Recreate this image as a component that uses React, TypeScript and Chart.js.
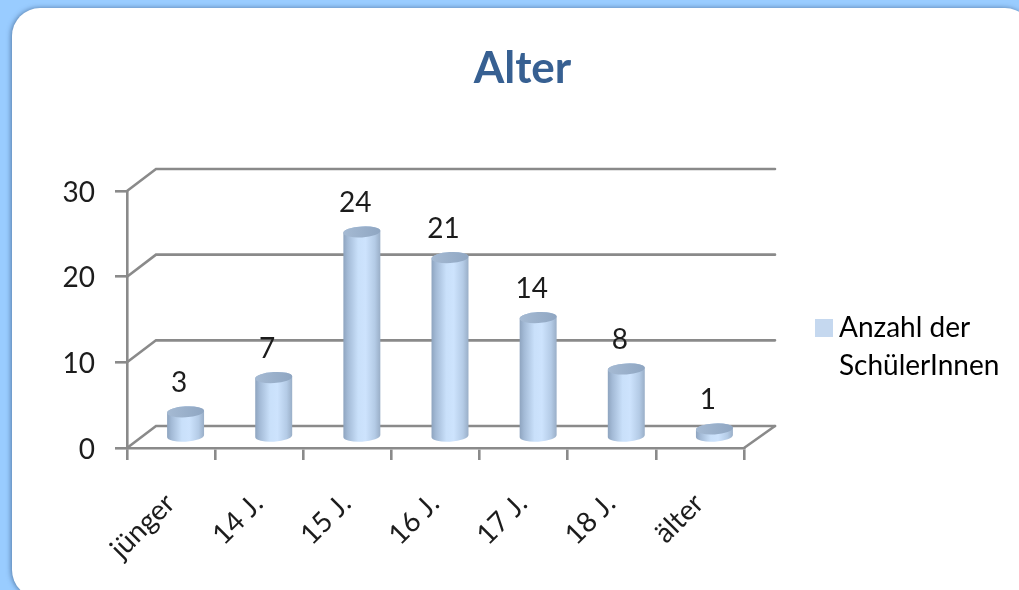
import React, { useEffect, useRef } from "react";
import { Chart, registerables } from "chart.js";

Chart.register(...registerables);

const categories = ["jünger", "14 J.", "15 J.", "16 J.", "17 J.", "18 J.", "älter"];
const counts = [3, 7, 24, 21, 14, 8, 1];
const seriesName = ["Anzahl der", "SchülerInnen"];
const yTicks = [0, 10, 20, 30];
const titleText = "Alter";

const FONT = "Lato";
const INK = "#1c1c1c";
const AXIS = "#8a8a8a";
const WALL_DX = 29;
const WALL_DY = -22;
const BAR_DX = 14.5;
const BAR_DY = -10.5;

const scene = {
  id: "scene",
  beforeDraw(chart: any) {
    const { ctx, width, height } = chart;
    ctx.save();
    ctx.fillStyle = "#99ccff";
    ctx.fillRect(0, 0, width, height);
    ctx.shadowColor = "rgba(40,70,110,0.6)";
    ctx.shadowBlur = 5;
    ctx.shadowOffsetX = -1;
    ctx.fillStyle = "#ffffff";
    ctx.beginPath();
    ctx.roundRect(12, 8, 1021, 590, 28);
    ctx.fill();
    ctx.restore();
  },
  afterLayout(chart: any) {
    chart.legend.left -= 11;
    chart.legend.top += 57;
    chart.legend.bottom += 57;
  },
  beforeDatasetsDraw(chart: any) {
    const { ctx, scales } = chart;
    const y = scales.y;
    const x = scales.x;
    ctx.save();
    ctx.strokeStyle = AXIS;
    ctx.lineWidth = 2.6;
    ctx.lineCap = "round";
    for (const t of yTicks) {
      const py = y.getPixelForValue(t);
      ctx.beginPath();
      ctx.moveTo(x.left, py);
      ctx.lineTo(x.left + WALL_DX, py + WALL_DY);
      ctx.lineTo(x.right + WALL_DX + 2, py + WALL_DY);
      ctx.stroke();
    }
    const py0 = y.getPixelForValue(0);
    ctx.beginPath();
    ctx.moveTo(x.right, py0);
    ctx.lineTo(x.right + WALL_DX + 2, py0 + WALL_DY);
    ctx.stroke();
    ctx.restore();
  },
  beforeDatasetDraw(chart: any, args: any) {
    const { ctx } = chart;
    const meta = chart.getDatasetMeta(args.index);
    meta.data.forEach((bar: any) => {
      const cx = bar.x + BAR_DX;
      const rx = bar.width / 2;
      const ry = 5.5;
      const tilt = -0.06;
      const top = bar.y + BAR_DY;
      const bot = bar.base + BAR_DY;
      const g = ctx.createLinearGradient(cx - rx, 0, cx + rx, 0);
      g.addColorStop(0, "#8ea4bf");
      g.addColorStop(0.12, "#a3bad6");
      g.addColorStop(0.4, "#c9e0fa");
      g.addColorStop(0.6, "#cde3fd");
      g.addColorStop(0.85, "#b4cbe6");
      g.addColorStop(1, "#99aec7");
      ctx.save();
      ctx.fillStyle = g;
      ctx.beginPath();
      ctx.ellipse(cx, bot, rx, ry, tilt, Math.PI, 0, true);
      ctx.ellipse(cx, top, rx, ry, tilt, 0, Math.PI, true);
      ctx.closePath();
      ctx.fill();
      const t = ctx.createLinearGradient(cx - rx, 0, cx + rx, 0);
      t.addColorStop(0, "#a5bad3");
      t.addColorStop(1, "#8fa6c2");
      ctx.fillStyle = t;
      ctx.beginPath();
      ctx.ellipse(cx, top, rx, ry, tilt, 0, Math.PI * 2);
      ctx.fill();
      ctx.restore();
    });
    return false;
  },
  afterDatasetsDraw(chart: any) {
    const { ctx } = chart;
    const meta = chart.getDatasetMeta(0);
    ctx.save();
    ctx.font = `28px ${FONT}`;
    ctx.fillStyle = INK;
    ctx.textAlign = "center";
    ctx.textBaseline = "middle";
    meta.data.forEach((bar: any, i: number) => {
      ctx.fillText(String(counts[i]), bar.x + 8, bar.y + BAR_DY - 28.5);
    });
    ctx.restore();
  },
};

export default function App() {
  const ref = useRef<HTMLCanvasElement>(null);
  useEffect(() => {
    const chart = new Chart(ref.current as HTMLCanvasElement, {
      type: "bar",
      data: {
        labels: categories,
        datasets: [
          {
            label: seriesName.join(" "),
            data: counts,
            backgroundColor: "#c5d8ef",
            barPercentage: 0.42,
            categoryPercentage: 1,
          },
        ],
      },
      plugins: [scene],
      options: {
        animation: false,
        responsive: false,
        devicePixelRatio: 1,
        layout: { padding: { left: 26, right: 0, top: 0, bottom: 0 } },
        plugins: {
          tooltip: { enabled: false },
          title: {
            display: true,
            text: titleText,
            color: "#376092",
            font: { family: FONT, size: 44, weight: "bold" },
            padding: { top: 42, bottom: 96.2 },
          },
          legend: {
            display: true,
            position: "right",
            maxWidth: 275,
            labels: {
              color: INK,
              font: { family: FONT, size: 28, lineHeight: 1.357 },
              boxWidth: 2,
              boxHeight: 2,
              padding: 90,
              generateLabels: () => [
                {
                  text: seriesName,
                  fillStyle: "#c5d8ef",
                  strokeStyle: "#c5d8ef",
                  lineWidth: 16,
                  datasetIndex: 0,
                } as any,
              ],
            },
          },
        },
        scales: {
          x: {
            afterFit: (s: any) => {
              s.height = 142;
            },
            border: { color: AXIS, width: 2.6 },
            grid: { drawOnChartArea: false, color: AXIS, lineWidth: 2.6, tickLength: 12 },
            ticks: {
              autoSkip: false,
              minRotation: 45,
              maxRotation: 45,
              color: INK,
              font: { family: FONT, size: 28 },
              padding: 27,
              labelOffset: -1,
            },
          },
          y: {
            min: 0,
            max: 30,
            afterFit: (s: any) => {
              s.width = 101;
            },
            border: { color: AXIS, width: 2.6 },
            grid: { drawOnChartArea: false, color: AXIS, lineWidth: 2.6, tickLength: 12 },
            ticks: {
              stepSize: 10,
              color: INK,
              font: { family: FONT, size: 28 },
              padding: 20,
              labelOffset: 1.5,
            },
          },
        },
      } as any,
    });
    return () => chart.destroy();
  }, []);
  return (
    <div style={{ position: "fixed", left: 0, top: 0, width: 1019, height: 590 }}>
      <canvas ref={ref} width={1019} height={590} style={{ display: "block" }} />
    </div>
  );
}
